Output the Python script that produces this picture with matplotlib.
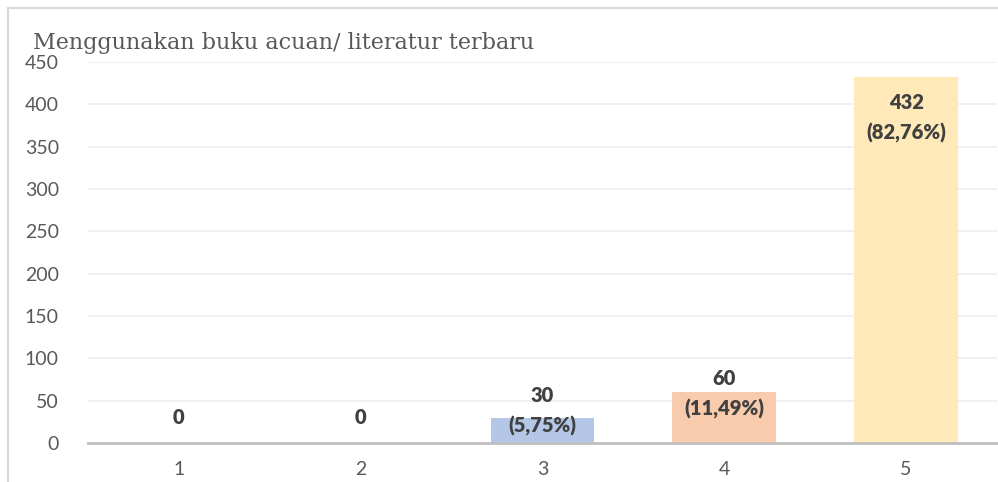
import matplotlib.pyplot as plt
from matplotlib.patches import Rectangle

# ===================== data =====================
categories = ["1", "2", "3", "4", "5"]
values = [0, 0, 30, 60, 432]
labels = ["0", "0", "30\n(5,75%)", "60\n(11,49%)", "432\n(82,76%)"]
bar_colors = ["#B4C7E7", "#B4C7E7", "#B4C7E7", "#F8CBAD", "#FFE9B8"]
label_offsets_px = [25, 25, 7, -2, -41]  # label centre relative to bar top
title = "Menggunakan buku acuan/ literatur terbaru"
y_ticks = [0, 50, 100, 150, 200, 250, 300, 350, 400, 450]

W, H = 998, 482
fig = plt.figure(figsize=(W / 100, H / 100), dpi=100)
fig.patch.set_facecolor("white")

# outer chart frame (light gray border, partly cut off)
fig.patches.append(Rectangle((8 / W, -0.1), 1.2, 1 - 8 / H + 0.1,
                             transform=fig.transFigure, fill=False,
                             edgecolor="#D9D9D9", linewidth=1.5))

ax = fig.add_axes([88 / W, 1 - 443 / H, (997 - 88) / W, (443 - 62) / H])
x = list(range(1, len(categories) + 1))
ax.bar(x, values, width=0.57, color=bar_colors, zorder=2)

ax.set_xlim(0.5, 5.5)
ax.set_ylim(0, 450)
ax.set_yticks(y_ticks)
ax.set_xticks(x)
ax.set_xticklabels(categories)

font = "Lato"
for lbl in ax.get_xticklabels() + ax.get_yticklabels():
    lbl.set_fontfamily(font)
    lbl.set_fontsize(14)
    lbl.set_color("#595959")
ax.tick_params(axis="both", length=0)
ax.tick_params(axis="y", pad=21)
ax.tick_params(axis="x", pad=13)

ax.grid(axis="y", color="#EDEDED", linewidth=1.2, zorder=0)
for side in ["top", "right", "left"]:
    ax.spines[side].set_visible(False)
ax.spines["bottom"].set_color("#BFBFBF")
ax.spines["bottom"].set_linewidth(2)
ax.spines["bottom"].set_zorder(3)

for xi, v, lab, off in zip(x, values, labels, label_offsets_px):
    ax.annotate(lab, (xi, v), xytext=(0, off * 0.72), textcoords="offset points",
                ha="center", va="center", fontsize=14.5, fontweight="heavy",
                fontfamily=font, color="#404040", linespacing=1.65, zorder=4)

fig.text(33 / W, 1 - 43 / H, title, fontsize=16, fontfamily="DejaVu Serif",
         color="#595959", ha="left", va="center")

fig.savefig("out.png", dpi=100)
